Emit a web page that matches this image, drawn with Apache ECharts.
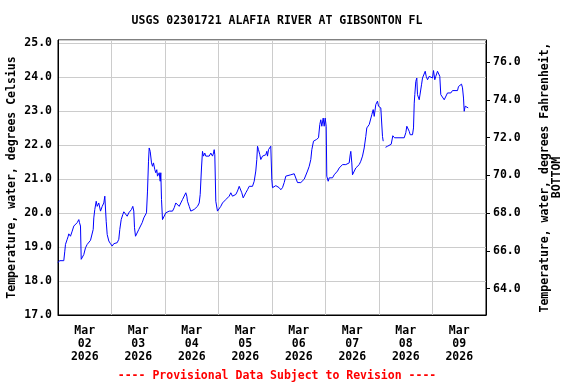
<!DOCTYPE html>
<html>
<head>
<meta charset="utf-8">
<script src="https://cdn.jsdelivr.net/npm/echarts@6/dist/echarts.min.js"></script>
<style>html,body{margin:0;padding:0;background:#fff;}#c{width:576px;height:384px;}</style>
</head>
<body>
<div id="c"></div>
<script>
// hours since 2026-03-02 00:00
var hours = [0.00,0.67,2.60,3.05,3.36,4.13,4.58,4.84,5.60,6.37,7.09,7.85,8.61,9.33,9.64,10.09,10.41,10.86,11.57,12.34,13.10,13.82,14.58,15.34,15.79,16.06,16.51,17.14,17.59,18.30,19.07,19.83,20.55,21.00,21.31,21.62,22.07,22.79,23.55,24.31,25.03,26.56,27.27,27.72,28.35,29.07,29.52,30.28,31.04,31.76,32.52,32.97,33.56,34.00,34.32,34.77,35.53,36.25,37.01,37.77,38.49,38.90,39.70,40.15,40.60,40.91,41.36,41.95,42.39,42.84,43.43,43.87,44.32,44.63,45.40,45.85,46.12,46.43,46.88,47.64,48.36,49.88,51.37,52.13,52.85,53.61,54.37,55.09,55.85,56.61,57.33,57.78,58.09,58.86,59.57,60.34,61.10,61.82,62.58,63.34,63.79,64.37,64.82,65.27,65.85,66.30,67.83,68.55,69.31,69.76,70.07,70.34,70.79,71.55,72.31,73.03,73.80,74.56,75.28,76.04,76.80,77.52,78.28,79.05,79.76,80.52,81.29,82.00,82.45,83.08,83.53,84.25,85.01,85.77,86.49,87.25,88.01,88.73,89.18,89.50,89.94,90.53,90.98,91.74,92.50,93.22,93.67,93.98,94.43,95.01,95.46,95.91,96.23,96.99,97.71,98.47,99.23,99.95,100.71,101.47,102.19,102.95,104.43,105.96,106.68,107.44,108.92,109.68,110.45,111.16,111.93,112.38,112.69,113.41,113.86,114.17,114.62,115.38,115.96,116.86,117.44,117.89,118.34,118.97,119.41,119.86,120.31,120.58,121.21,121.66,123.14,123.90,124.62,125.38,126.15,126.86,127.63,128.39,129.10,129.87,130.63,131.08,131.35,131.80,132.11,132.87,133.59,134.35,135.12,135.83,136.60,137.36,138.08,138.53,139.16,139.61,140.33,140.78,141.40,141.85,142.57,143.33,143.78,144.36,144.81,145.26,145.57,145.89,146.40,146.92,147.82,148.71,149.48,150.19,150.96,155.31,156.03,156.48,157.10,157.55,158.00,159.03,159.48,159.80,160.06,160.51,160.96,161.27,162.04,162.49,163.07,163.52,164.28,164.73,165.18,165.76,166.52,167.24,168.00,168.45,169.03,169.48,170.24,171.00,171.27,171.72,172.49,173.25,173.97,174.73,175.49,176.21,176.97,179.22,179.67,180.25,181.01,181.46,181.91,182.22,182.67,183.12,184.02];
var tempC = [18.54,18.60,18.60,18.88,19.08,19.23,19.32,19.39,19.32,19.47,19.62,19.67,19.72,19.81,19.72,19.62,18.64,18.69,18.78,18.98,19.08,19.13,19.20,19.23,19.52,19.86,20.11,20.35,20.20,20.30,20.06,20.20,20.30,20.50,20.55,19.76,19.37,19.18,19.10,19.03,19.10,19.13,19.23,19.52,19.81,19.96,20.04,20.01,19.91,20.01,20.06,20.11,20.20,20.06,19.57,19.32,19.32,19.52,19.57,19.72,19.86,19.91,20.01,20.65,21.53,21.92,21.82,21.48,21.38,21.48,21.28,21.19,21.28,21.09,21.19,20.94,21.19,20.40,19.81,19.86,20.01,20.06,20.06,20.16,20.30,20.30,20.20,20.30,20.40,20.45,20.60,20.50,20.35,20.20,20.06,20.06,20.11,20.16,20.20,20.30,20.55,21.33,21.82,21.68,21.77,21.68,21.68,21.77,21.68,21.77,21.87,21.72,20.35,20.06,20.11,20.20,20.30,20.30,20.40,20.40,20.50,20.60,20.50,20.45,20.55,20.65,20.79,20.84,20.60,20.45,20.50,20.60,20.69,20.79,20.81,20.79,20.94,21.24,21.58,21.97,21.87,21.72,21.58,21.68,21.63,21.72,21.82,21.68,21.87,21.92,21.97,21.00,20.75,20.75,20.81,20.81,20.75,20.69,20.75,20.90,21.09,21.11,21.13,21.16,21.11,20.90,20.90,20.90,21.00,21.04,21.24,21.28,21.38,21.58,21.87,21.85,22.12,22.07,22.17,22.22,22.61,22.75,22.56,22.80,22.56,22.80,22.56,21.09,20.94,21.04,21.04,21.13,21.09,21.24,21.33,21.38,21.43,21.38,21.43,21.38,21.48,21.72,21.82,21.48,21.13,21.18,21.33,21.38,21.43,21.53,21.68,21.92,22.26,22.51,22.46,22.61,22.66,22.90,23.05,22.85,23.20,23.30,23.15,23.20,23.10,23.15,22.26,22.12,null,21.94,21.97,21.92,22.03,22.28,22.22,22.22,22.37,22.56,22.61,22.41,22.31,22.31,22.51,23.24,23.49,23.88,23.98,23.49,23.34,23.39,23.78,23.98,24.03,24.18,24.03,23.93,24.03,24.08,23.98,24.20,23.93,24.03,24.18,24.18,24.03,23.49,23.44,23.34,23.39,23.54,23.59,23.54,23.61,23.61,23.73,23.78,23.80,23.69,23.39,23.00,23.15,23.10,23.10];

var xLabelHours = [12, 36, 60, 84, 108, 132, 156, 180];
var xLabels = ['Mar\n02\n2026','Mar\n03\n2026','Mar\n04\n2026','Mar\n05\n2026','Mar\n06\n2026','Mar\n07\n2026','Mar\n08\n2026','Mar\n09\n2026'];
var fTicks = [64, 66, 68, 70, 72, 74, 76];
var cMin = 17.0, cMax = 25.1;

var titleText = 'USGS 02301721 ALAFIA RIVER AT GIBSONTON FL';
var footerText = '---- Provisional Data Subject to Revision ----';
var leftName = 'Temperature, water, degrees Celsius';
var rightName = 'Temperature, water, degrees Fahrenheit,\nBOTTOM';

var FONT = 'DejaVu Sans Mono';
var FS = 11.5;
var seriesData = hours.map(function (h, i) { return [h, tempC[i]]; });

var chart = echarts.init(document.getElementById('c'), null, {renderer: 'canvas'});
chart.setOption({
  animation: false,
  backgroundColor: '#fff',
  title: [
    {text: titleText, left: 272, top: 10, textAlign: 'center',
     textStyle: {fontFamily: FONT, fontSize: FS, fontWeight: 'bold', color: '#000'}},
    {text: footerText, left: 272, top: 365, textAlign: 'center',
     textStyle: {fontFamily: FONT, fontSize: FS, fontWeight: 'bold', color: '#ff0000'}}
  ],
  grid: {left: 58, right: 90, top: 40, bottom: 69, outerBoundsMode: 'none', containLabel: false,
         show: true, borderColor: '#000', borderWidth: 1, backgroundColor: 'transparent'},
  xAxis: {
    type: 'value', min: 0, max: 192, interval: 24,
    axisLine: {show: true, lineStyle: {color: '#000', width: 1}},
    axisTick: {show: false},
    splitLine: {show: true, lineStyle: {color: '#cccccc', width: 1}},
    axisLabel: {
      customValues: xLabelHours,
      formatter: function (v) { var i = xLabelHours.indexOf(v); return i >= 0 ? xLabels[i] : ''; },
      fontFamily: FONT, fontSize: FS, fontWeight: 'bold', color: '#000', lineHeight: 13, margin: 10
    }
  },
  yAxis: [
    {
      type: 'value', min: cMin, max: cMax, interval: 1, position: 'left',
      name: leftName, nameLocation: 'middle', nameGap: 40, nameMoveOverlap: false,
      nameTextStyle: {fontFamily: FONT, fontSize: FS, fontWeight: 'bold', color: '#000'},
      axisLine: {show: true, lineStyle: {color: '#000'}},
      axisTick: {show: false},
      splitLine: {show: true, lineStyle: {color: '#cccccc', width: 1}},
      axisLabel: {showMaxLabel: false, formatter: function (v) { return v.toFixed(1); },
        fontFamily: FONT, fontSize: FS, fontWeight: 'bold', color: '#000', margin: 6}
    },
    {
      type: 'value', min: cMin * 1.8 + 32, max: cMax * 1.8 + 32, position: 'right',
      name: rightName, nameLocation: 'middle', nameGap: 53, nameMoveOverlap: false,
      nameTextStyle: {fontFamily: FONT, fontSize: FS, fontWeight: 'bold', color: '#000', lineHeight: 12, align: 'center'},
      axisLine: {show: true, lineStyle: {color: '#000'}},
      axisTick: {show: true, length: 4, inside: false, customValues: fTicks, lineStyle: {color: '#000'}},
      splitLine: {show: false},
      axisLabel: {customValues: fTicks, formatter: function (v) { return v.toFixed(1); },
        fontFamily: FONT, fontSize: FS, fontWeight: 'bold', color: '#000', margin: 7}
    }
  ],
  series: [{
    type: 'line', yAxisIndex: 0, data: seriesData, showSymbol: false, connectNulls: false,
    lineStyle: {color: '#0000ff', width: 1}, itemStyle: {color: '#0000ff'}, silent: true
  }]
});
</script>
</body>
</html>
